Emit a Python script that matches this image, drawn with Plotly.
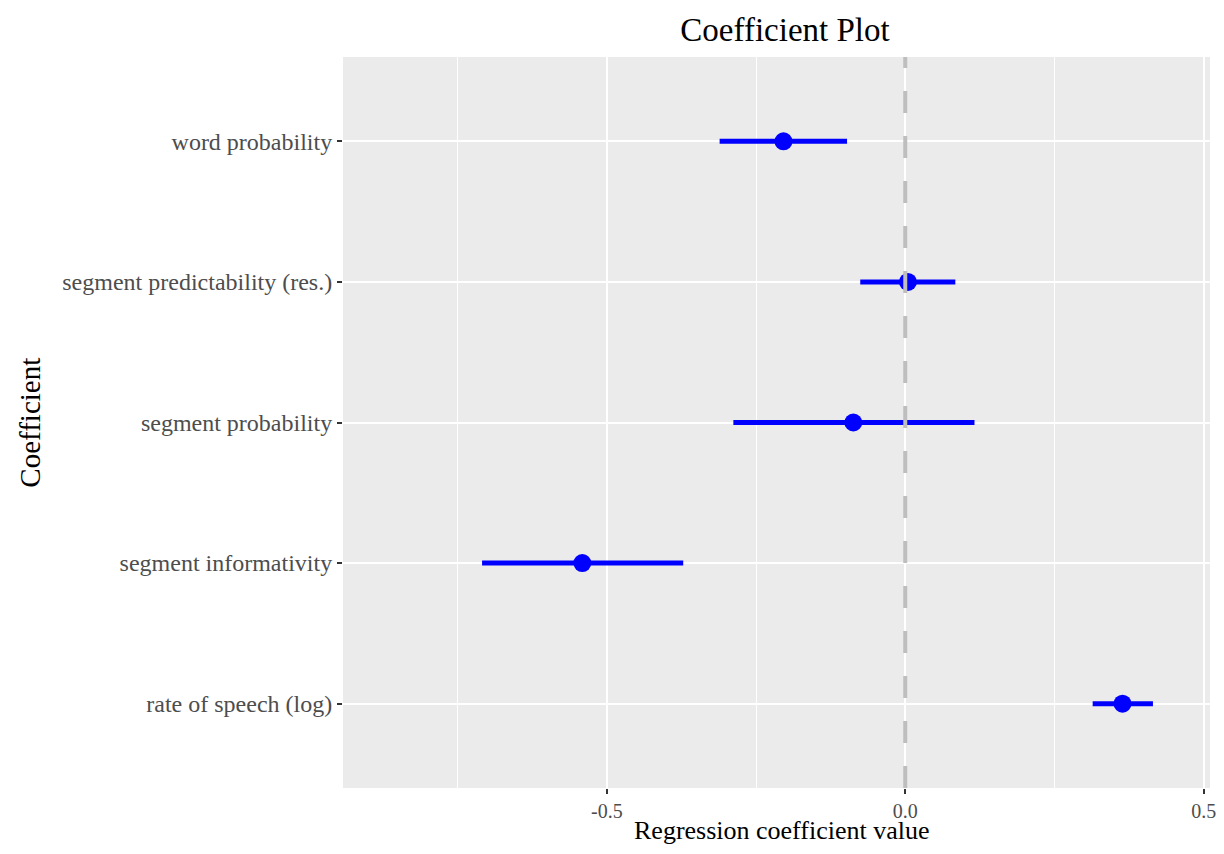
import plotly.graph_objects as go

coefficients = ["rate of speech (log)", "segment informativity", "segment probability",
                "segment predictability (res.)", "word probability"]
estimates = [0.364, -0.541, -0.087, 0.0045, -0.204]
ci_low = [0.314, -0.709, -0.288, -0.0754, -0.311]
ci_high = [0.415, -0.372, 0.116, 0.0839, -0.0975]

FONT = "Liberation Serif"
W, H = 1208, 838
L, R, T, B = 335, 0, 49, 58
PW, PH = W - L - R, H - T - B
PX_PER_UNIT = 601.0
X_MIN = -0.942
X_MAX = X_MIN + PW / PX_PER_UNIT

fig = go.Figure()

# zero reference line
fig.add_shape(type="line", xref="x", yref="paper", x0=0, x1=0, y0=0, y1=1,
              line=dict(color="#BEBEBE", width=4, dash="22px,23px"), layer="above")

fig.add_trace(go.Scatter(
    x=estimates, y=coefficients, mode="markers",
    marker=dict(color="#0000FF", size=18),
    error_x=dict(type="data", symmetric=False,
                 array=[h - e for h, e in zip(ci_high, estimates)],
                 arrayminus=[e - l for e, l in zip(estimates, ci_low)],
                 color="#0000FF", thickness=5, width=0),
    showlegend=False,
))

fig.add_annotation(text="Coefficient", xref="paper", yref="paper",
                   x=(19 - L) / PW, y=0.5, xanchor="center", yanchor="middle",
                   textangle=-90, showarrow=False,
                   font=dict(size=29, color="#000000", family=FONT))
fig.add_annotation(text="Regression coefficient value", xref="paper", yref="paper",
                   x=(777 - L) / PW, y=-(822 - (T + PH)) / PH, xanchor="center", yanchor="middle",
                   showarrow=False,
                   font=dict(size=26, color="#000000", family=FONT))

fig.update_layout(
    width=W, height=H,
    margin=dict(l=L, r=R, t=T, b=B),
    paper_bgcolor="white", plot_bgcolor="#EBEBEB",
    font=dict(family=FONT, color="#000000"),
    title=dict(text="Coefficient Plot", x=777 / W, xanchor="center",
               y=1 - 21 / H, yanchor="middle", font=dict(size=33, family=FONT, color="#000000")),
    xaxis=dict(
        range=[X_MIN, X_MAX], tickvals=[-0.5, 0, 0.5], ticktext=["-0.5", "0.0", "0.5"],
        ticklabeloverflow="allow",
        showgrid=True, gridcolor="white", gridwidth=2,
        minor=dict(tickvals=[-0.75, -0.25, 0.25], showgrid=True, gridcolor="white", gridwidth=1),
        zeroline=False, ticks="outside", ticklen=5, tickwidth=2, tickcolor="#333333",
        tickfont=dict(size=20, color="#4D4D4D", family=FONT),
        showline=False,
    ),
    yaxis=dict(
        type="category", categoryorder="array", categoryarray=coefficients,
        range=[-0.6, 4.6],
        showgrid=True, gridcolor="white", gridwidth=2, zeroline=False,
        ticks="outside", ticklen=5, tickwidth=2, tickcolor="#333333",
        tickfont=dict(size=24, color="#4D4D4D", family=FONT),
        showline=False,
    ),
)

fig.write_html("out.html")
